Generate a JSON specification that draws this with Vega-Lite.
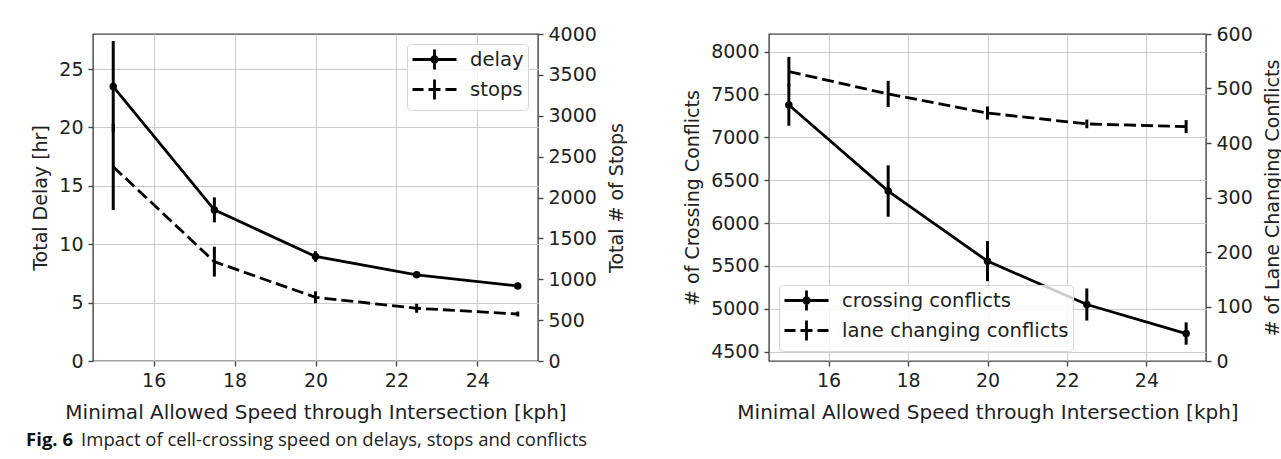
{
  "$schema": "https://vega.github.io/schema/vega-lite/v6.json",
  "padding": {"left": 26, "top": 24, "right": 0, "bottom": 0},
  "background": "white",
  "config": {
    "font": "DejaVu Sans",
    "view": {"stroke": "#444444", "strokeWidth": 1.4},
    "axis": {
      "labelFont": "DejaVu Sans", "labelFontSize": 19, "labelColor": "#222222",
      "titleFont": "DejaVu Sans", "titleFontSize": 19, "titleFontWeight": "normal", "titleColor": "#222222",
      "tickColor": "#444444", "tickSize": 5, "tickWidth": 1.4, "domain": false,
      "gridColor": "#cccccc", "gridWidth": 1.1, "labelPadding": 5
    },
    "legend": {
      "title": null, "padding": 4, "rowPadding": -3, "symbolSize": 400, "symbolOffset": 12,
      "labelOffset": 24, "symbolStrokeWidth": 2.8, "symbolStrokeColor": "black", "symbolFillColor": "black",
      "symbolOpacity": 1, "labelFontSize": 19.6, "labelFont": "DejaVu Sans", "labelColor": "#222222",
      "labelLimit": 400, "strokeColor": "#d6d6d6", "cornerRadius": 4, "fillColor": "rgba(255,255,255,0.8)", "offset": 10
    }
  },
  "title": {"text": "Impact of cell-crossing speed on delays, stops and conflicts", "orient": "bottom", "anchor": "start", "font": "Open Sans", "fontSize": 18.5, "fontWeight": "normal", "color": "#222222", "dx": 55, "dy": -18.5, "offset": 0},
  "vconcat": [
    {
      "title": {"text": "Fig. 6", "orient": "bottom", "anchor": "start", "font": "Open Sans", "fontSize": 18.5, "fontWeight": "bold", "color": "#111111", "dx": -5, "offset": 8},
      "spacing": 54,
      "resolve": {"scale": {"shape": "independent"}, "legend": {"shape": "independent"}},
      "hconcat": [
        {
          "width": 445, "height": 327,
          "data": {"values": [
            {"speed": 15, "delay": 23.5, "delay_err": 3.9, "stops": 2377, "stops_err": 530},
            {"speed": 17.5, "delay": 12.94, "delay_err": 1.07, "stops": 1215, "stops_err": 183},
            {"speed": 20, "delay": 8.95, "delay_err": 0.45, "stops": 779, "stops_err": 73},
            {"speed": 22.5, "delay": 7.38, "delay_err": 0.2, "stops": 645, "stops_err": 55},
            {"speed": 25, "delay": 6.43, "delay_err": 0.2, "stops": 575, "stops_err": 30}
          ]},
          "layer": [
            {
              "layer": [
                {
                  "mark": {"type": "line", "color": "black", "strokeWidth": 2.8},
                  "encoding": {
                    "x": {"field": "speed", "type": "quantitative", "scale": {"domain": [14.5, 25.5], "nice": false, "zero": false},
                      "axis": {"values": [16, 18, 20, 22, 24], "title": "Minimal Allowed Speed through Intersection [kph]", "titleFontSize": 20, "titlePadding": 12, "grid": true}},
                    "y": {"field": "delay", "type": "quantitative", "scale": {"domain": [0, 28], "nice": false, "zero": false},
                      "axis": {"values": [0, 5, 10, 15, 20, 25], "title": "Total Delay [hr]", "titlePadding": 8, "grid": true}}
                  }
                },
                {
                  "mark": {"type": "errorbar", "color": "black", "thickness": 3},
                  "encoding": {
                    "x": {"field": "speed", "type": "quantitative"},
                    "y": {"field": "delay", "type": "quantitative", "title": "Total Delay [hr]"},
                    "yError": {"field": "delay_err"}
                  }
                },
                {
                  "mark": {"type": "point", "filled": true, "size": 56, "color": "black", "opacity": 1},
                  "encoding": {
                    "x": {"field": "speed", "type": "quantitative"},
                    "y": {"field": "delay", "type": "quantitative", "title": "Total Delay [hr]"}
                  }
                },
                {
                  "data": {"values": [{"series": "delay"}, {"series": "stops"}]},
                  "mark": {"type": "point", "opacity": 0},
                  "encoding": {
                    "shape": {"field": "series", "type": "nominal",
                      "scale": {"domain": ["delay", "stops"], "range": ["M-2.2,0H2.2M0,-1V1M0.28,0A0.28,0.28,0,1,1,-0.28,0A0.28,0.28,0,1,1,0.28,0ZM0.1,0A0.1,0.1,0,1,1,-0.1,0A0.1,0.1,0,1,1,0.1,0Z", "M-2.2,0H-1.1M-0.6,0H0.6M1.1,0H2.2M0,-1V1"]},
                      "legend": {"orient": "top-right", "encode": {"symbols": {"update": {"opacity": {"value": 1}, "strokeOpacity": {"value": 1}}}}}}
                  }
                }
              ]
            },
            {
              "layer": [
                {
                  "mark": {"type": "line", "color": "black", "strokeWidth": 2.8, "strokeDash": [12, 5]},
                  "encoding": {
                    "x": {"field": "speed", "type": "quantitative"},
                    "y": {"field": "stops", "type": "quantitative", "scale": {"domain": [0, 4000], "nice": false, "zero": false},
                      "axis": {"orient": "right", "values": [0, 500, 1000, 1500, 2000, 2500, 3000, 3500, 4000], "format": "d", "title": "Total # of Stops", "titleAngle": 270, "titleBaseline": "top", "titlePadding": 11, "grid": false}}
                  }
                },
                {
                  "mark": {"type": "errorbar", "color": "black", "thickness": 3},
                  "encoding": {
                    "x": {"field": "speed", "type": "quantitative"},
                    "y": {"field": "stops", "type": "quantitative", "title": "Total # of Stops"},
                    "yError": {"field": "stops_err"}
                  }
                }
              ]
            }
          ],
          "resolve": {"scale": {"y": "independent"}}
        },
        {
          "width": 437, "height": 327,
          "data": {"values": [
            {"speed": 15, "crossing": 7377, "crossing_err": 242, "lane": 531, "lane_err": 27},
            {"speed": 17.5, "crossing": 6373, "crossing_err": 300, "lane": 490, "lane_err": 24},
            {"speed": 20, "crossing": 5555, "crossing_err": 234, "lane": 455, "lane_err": 12},
            {"speed": 22.5, "crossing": 5049, "crossing_err": 187, "lane": 435, "lane_err": 8},
            {"speed": 25, "crossing": 4710, "crossing_err": 130, "lane": 430, "lane_err": 12}
          ]},
          "layer": [
            {
              "layer": [
                {
                  "mark": {"type": "line", "color": "black", "strokeWidth": 2.8},
                  "encoding": {
                    "x": {"field": "speed", "type": "quantitative", "scale": {"domain": [14.5, 25.5], "nice": false, "zero": false},
                      "axis": {"values": [16, 18, 20, 22, 24], "title": "Minimal Allowed Speed through Intersection [kph]", "titleFontSize": 20, "titlePadding": 12, "grid": true}},
                    "y": {"field": "crossing", "type": "quantitative", "scale": {"domain": [4390, 8205], "nice": false, "zero": false},
                      "axis": {"values": [4500, 5000, 5500, 6000, 6500, 7000, 7500, 8000], "format": "d", "title": "# of Crossing Conflicts", "titlePadding": 8, "grid": true}}
                  }
                },
                {
                  "mark": {"type": "errorbar", "color": "black", "thickness": 3},
                  "encoding": {
                    "x": {"field": "speed", "type": "quantitative"},
                    "y": {"field": "crossing", "type": "quantitative", "title": "# of Crossing Conflicts"},
                    "yError": {"field": "crossing_err"}
                  }
                },
                {
                  "mark": {"type": "point", "filled": true, "size": 56, "color": "black", "opacity": 1},
                  "encoding": {
                    "x": {"field": "speed", "type": "quantitative"},
                    "y": {"field": "crossing", "type": "quantitative", "title": "# of Crossing Conflicts"}
                  }
                },
                {
                  "data": {"values": [{"series": "crossing conflicts"}, {"series": "lane changing conflicts"}]},
                  "mark": {"type": "point", "opacity": 0},
                  "encoding": {
                    "shape": {"field": "series", "type": "nominal",
                      "scale": {"domain": ["crossing conflicts", "lane changing conflicts"], "range": ["M-2.2,0H2.2M0,-1V1M0.28,0A0.28,0.28,0,1,1,-0.28,0A0.28,0.28,0,1,1,0.28,0ZM0.1,0A0.1,0.1,0,1,1,-0.1,0A0.1,0.1,0,1,1,0.1,0Z", "M-2.2,0H-1.1M-0.6,0H0.6M1.1,0H2.2M0,-1V1"]},
                      "legend": {"orient": "bottom-left", "encode": {"symbols": {"update": {"opacity": {"value": 1}, "strokeOpacity": {"value": 1}}}}}}
                  }
                }
              ]
            },
            {
              "layer": [
                {
                  "mark": {"type": "line", "color": "black", "strokeWidth": 2.8, "strokeDash": [12, 5]},
                  "encoding": {
                    "x": {"field": "speed", "type": "quantitative"},
                    "y": {"field": "lane", "type": "quantitative", "scale": {"domain": [0, 600], "nice": false, "zero": false},
                      "axis": {"orient": "right", "values": [0, 100, 200, 300, 400, 500, 600], "format": "d", "title": "# of Lane Changing Conflicts", "titleAngle": 270, "titleBaseline": "top", "titlePadding": 11, "grid": false}}
                  }
                },
                {
                  "mark": {"type": "errorbar", "color": "black", "thickness": 3},
                  "encoding": {
                    "x": {"field": "speed", "type": "quantitative"},
                    "y": {"field": "lane", "type": "quantitative", "title": "# of Lane Changing Conflicts"},
                    "yError": {"field": "lane_err"}
                  }
                }
              ]
            }
          ],
          "resolve": {"scale": {"y": "independent"}}
        }
      ]
    }
  ]
}
